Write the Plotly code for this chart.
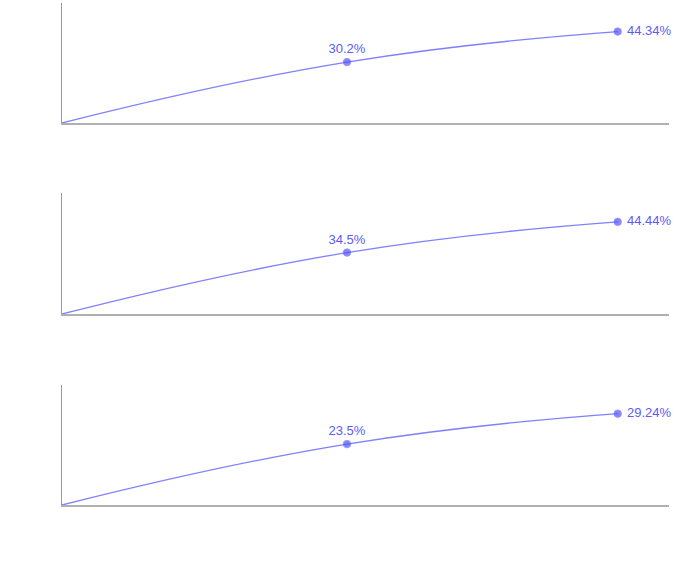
import plotly.graph_objects as go
from plotly.subplots import make_subplots

# Data
x_values = [0, 10, 19.5]
y_index = [0, 1, 1.5]
x_tick_values = [0, 8, 16]
x_tick_labels = ["0", "8", "16"]
y_tick_values = [0, 0.5, 1, 1.5]
y_tick_labels = ["0", "0.5", "1", "1.5"]
labels_top = ["", "30.2%", "44.34%"]
labels_middle = ["", "34.5%", "44.44%"]
labels_bottom = ["", "23.5%", "29.24%"]
panels = [labels_top, labels_middle, labels_bottom]

fig = make_subplots(rows=3, cols=1, vertical_spacing=0.1)

line_color = "rgba(105,105,255,0.85)"
marker_color = "#5252f5"
text_color = "#5b5bf7"

for i, labels in enumerate(panels, start=1):
    fig.add_trace(
        go.Scatter(
            x=x_values,
            y=y_index,
            mode="lines+markers+text",
            line=dict(color=line_color, width=1.3, shape="spline", smoothing=1.3),
            marker=dict(color=marker_color, size=[0, 7.5, 7.5]),
            text=labels,
            texttemplate=["%{text}", "%{text}", " %{text}"],
            textposition=["top center", "top center", "middle right"],
            textfont=dict(family="Liberation Sans, Arial, sans-serif", size=13, color=text_color),
            cliponaxis=False,
            showlegend=False,
            hoverinfo="skip",
        ),
        row=i, col=1,
    )

domains = [[0.761, 1.0], [0.3805, 0.6215], [0.0, 0.239]]
for i, dom in enumerate(domains, start=1):
    xa = "xaxis" if i == 1 else f"xaxis{i}"
    ya = "yaxis" if i == 1 else f"yaxis{i}"
    fig.layout[xa].update(
        domain=[0, 1],
        range=[0, 21.3],
        showgrid=False,
        zeroline=False,
        showline=True,
        linecolor="#b0b0b0",
        linewidth=1.5,
        tickvals=x_tick_values,
        ticktext=x_tick_labels,
        tickfont=dict(color="white", size=12),
        ticks="",
        automargin=False,
    )
    fig.layout[ya].update(
        domain=dom,
        range=[0, 1.97],
        showgrid=False,
        zeroline=False,
        showline=True,
        linecolor="#9a9a9a",
        linewidth=1,
        tickvals=y_tick_values,
        ticktext=y_tick_labels,
        tickfont=dict(color="white", size=10),
        ticks="",
        automargin=False,
    )

fig.update_layout(
    width=698,
    height=561,
    margin=dict(l=62, r=29, t=3, b=56),
    paper_bgcolor="white",
    plot_bgcolor="white",
    font=dict(family="Liberation Sans, Arial, sans-serif"),
)

fig.write_html(
    "out.html",
    config={"displayModeBar": False},
    post_script="document.body.style.margin='0';",
)
